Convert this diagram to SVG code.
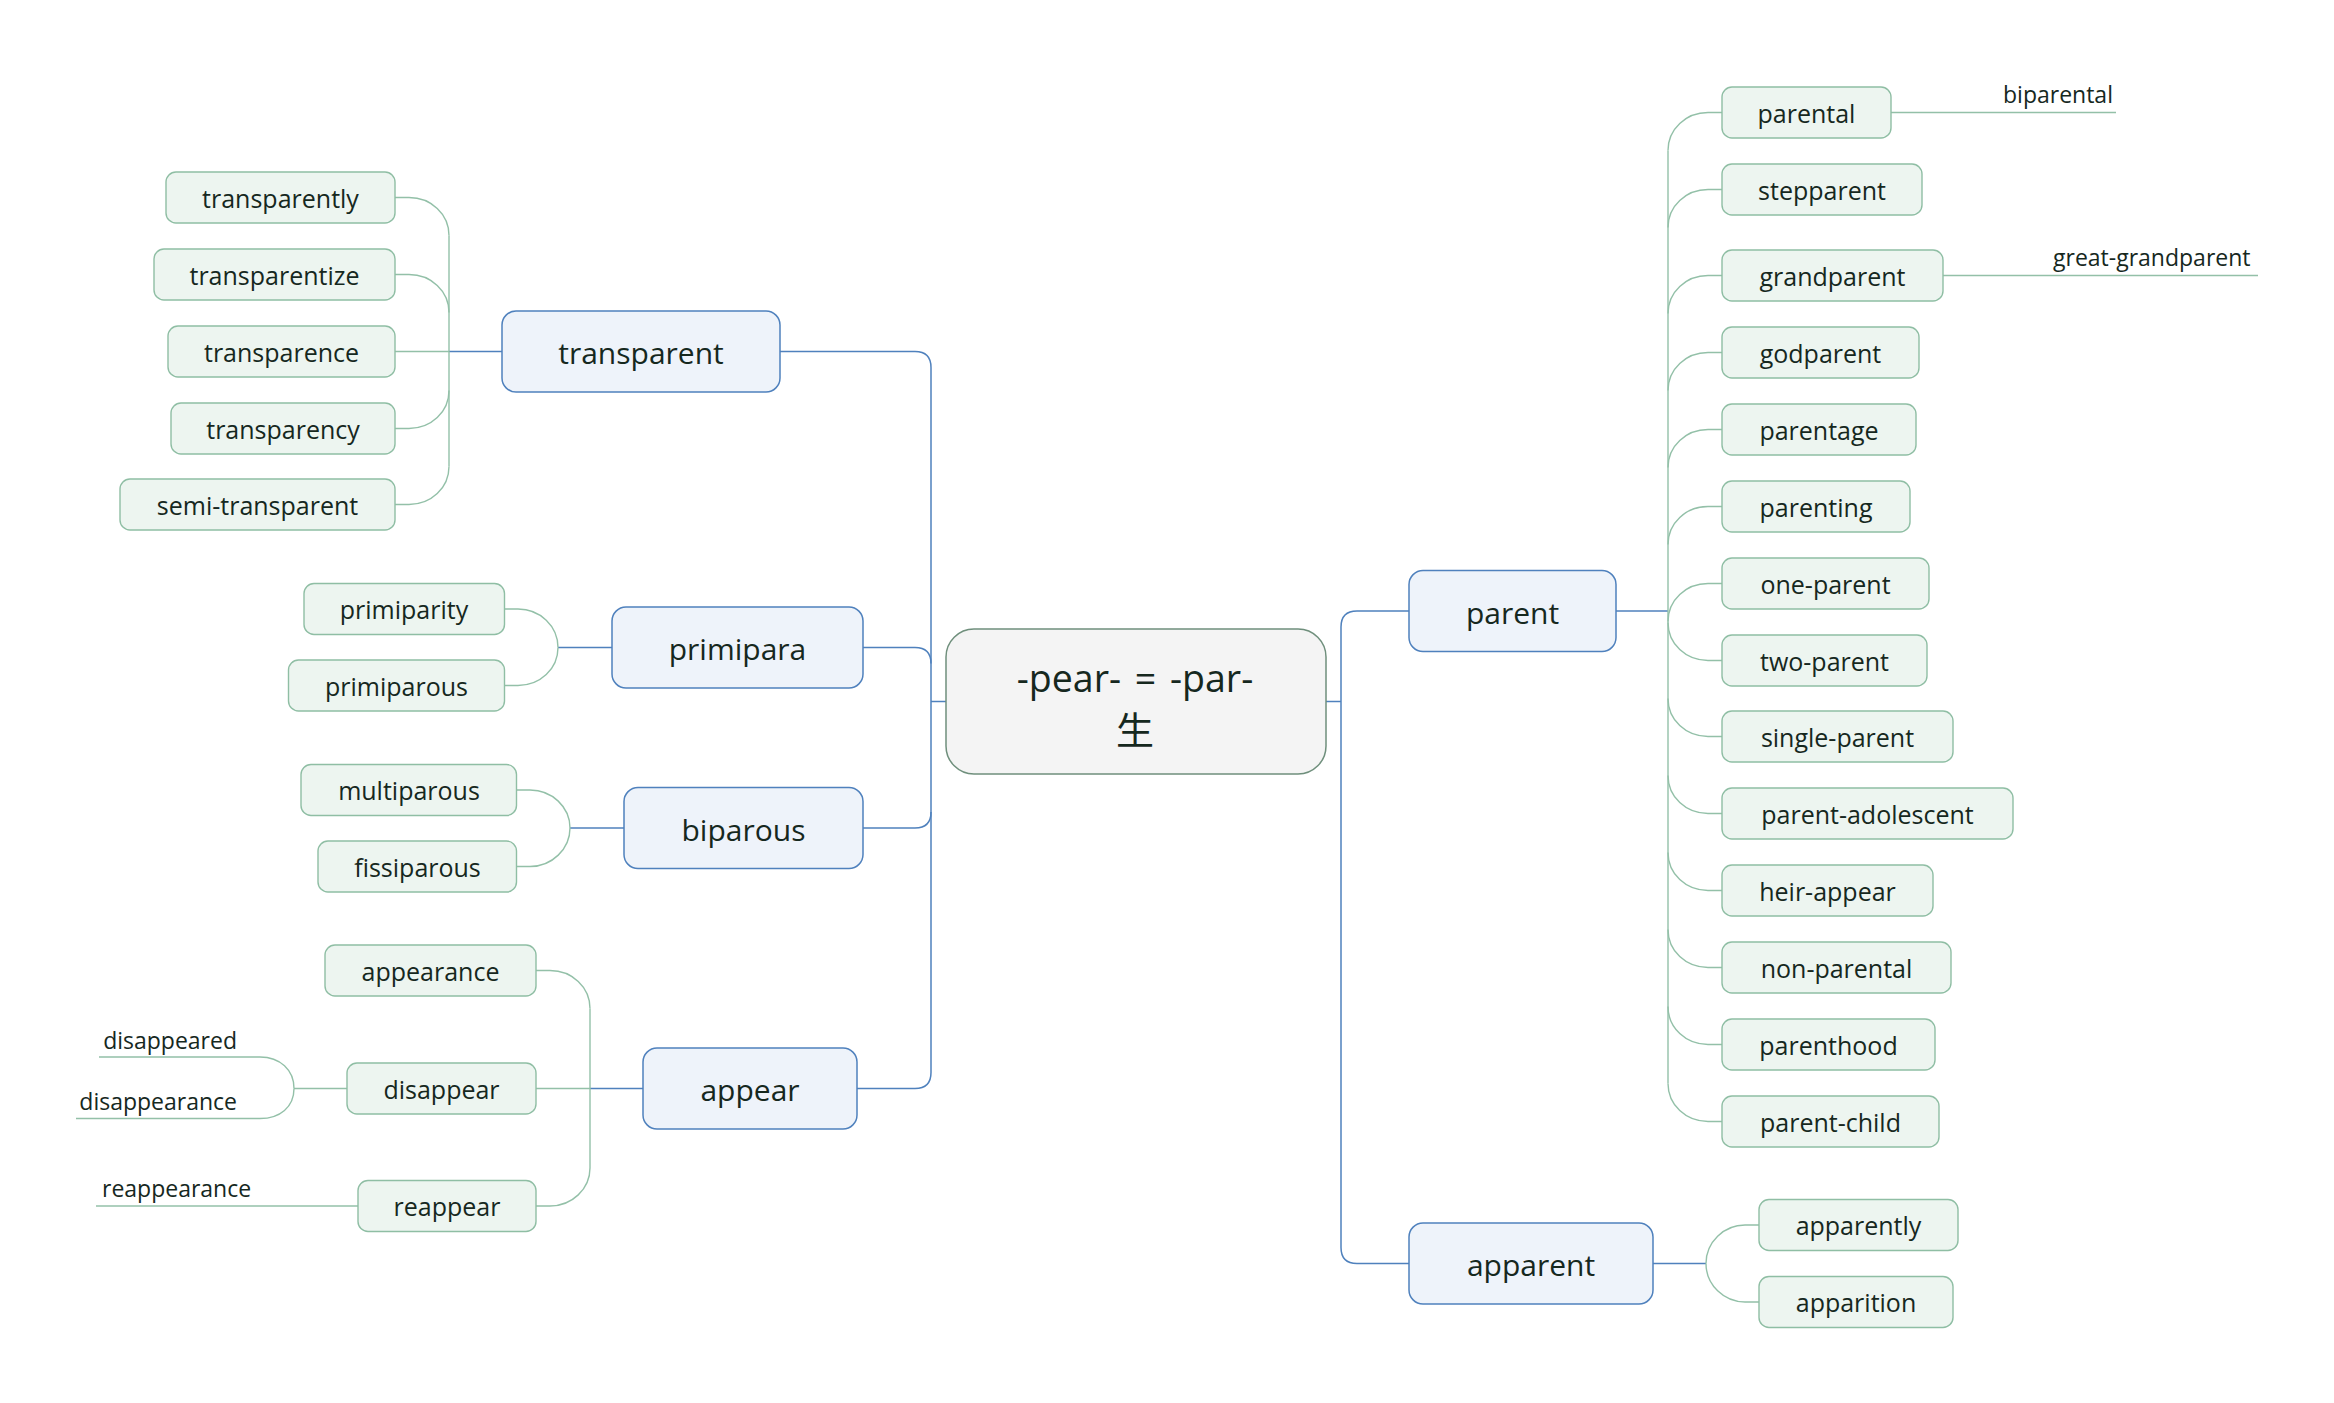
<svg xmlns="http://www.w3.org/2000/svg" width="2334" height="1403" viewBox="0 0 2334 1403">
<style>
text{font-family:"Open Sans","Noto Sans","Noto Sans CJK SC",sans-serif;fill:#16281e}
.c rect{fill:#f4f4f4;stroke:#6f8f7c;stroke-width:1.5}
.p rect{fill:#eef3fa;stroke:#4f81bd;stroke-width:1.5}
.k rect{fill:#edf5f0;stroke:#8fbea4;stroke-width:1.4}
.p text{font-size:30px;text-anchor:middle}
.k text{font-size:25px;text-anchor:middle}
.l text{font-size:23px}
.bl{fill:none;stroke:#4f81bd;stroke-width:1.5}
.gr{fill:none;stroke:#93c0a8;stroke-width:1.4}
</style>
<rect width="2334" height="1403" fill="#fff"/>
<g id="connectors">
  <path class="bl" d="M780,351.5 H915 Q931,351.5 931,367.5 V1072.5 Q931,1088.5 915,1088.5 H857"/>
  <path class="bl" d="M863,647.5 H915 Q931,647.5 931,663.5"/>
  <path class="bl" d="M863,828 H915 Q931,828 931,812"/>
  <path class="bl" d="M931,701.5 H946"/>
  <path class="bl" d="M1326,701.5 H1341"/>
  <path class="bl" d="M1409,611 H1357 Q1341,611 1341,627 V1247.5 Q1341,1263.5 1357,1263.5 H1409"/>
  <path class="bl" d="M449,351.5 H502"/>
  <path class="bl" d="M558,647.5 H612"/>
  <path class="bl" d="M570,828 H624"/>
  <path class="bl" d="M590,1088.5 H643"/>
  <path class="bl" d="M1616,611 H1668"/>
  <path class="bl" d="M1653,1263.5 H1706"/>
  <path class="gr" d="M449,235.5 V466.5"/>
  <path class="gr" d="M449,235.5 C449,214 431,197.5 409,197.5 H395"/>
  <path class="gr" d="M449,312.5 C449,291 431,274.5 409,274.5 H395"/>
  <path class="gr" d="M449,351.5 H395"/>
  <path class="gr" d="M449,390.5 C449,412 431,428.5 409,428.5 H395"/>
  <path class="gr" d="M449,466.5 C449,488 431,504.5 409,504.5 H395"/>
  <path class="gr" d="M558,647.5 C558,626 540,609 518,609 H504.5"/>
  <path class="gr" d="M558,647.5 C558,669 540,685.5 518,685.5 H504.5"/>
  <path class="gr" d="M570,828 C570,807 552,790 530,790 H516.5"/>
  <path class="gr" d="M570,828 C570,849 552,866.5 530,866.5 H516.5"/>
  <path class="gr" d="M590,1008.5 V1168"/>
  <path class="gr" d="M590,1008.5 C590,987 572,970.5 550,970.5 H536"/>
  <path class="gr" d="M590,1088.5 H536"/>
  <path class="gr" d="M590,1168 C590,1189 572,1206 550,1206 H536"/>
  <path class="gr" d="M347,1088.5 H294"/>
  <path class="gr" d="M294,1088.5 C294,1070 280,1057 260,1057 H99"/>
  <path class="gr" d="M294,1088.5 C294,1107 280,1118.5 260,1118.5 H76"/>
  <path class="gr" d="M358,1206 H96"/>
  <path class="gr" d="M1668,150.5 V1083.5"/>
  <path class="gr" d="M1668,150.5 C1668,129 1686,112.5 1708,112.5 H1722"/>
  <path class="gr" d="M1668,227.5 C1668,206 1686,189.5 1708,189.5 H1722"/>
  <path class="gr" d="M1668,313.5 C1668,292 1686,275.5 1708,275.5 H1722"/>
  <path class="gr" d="M1668,390.5 C1668,369 1686,352.5 1708,352.5 H1722"/>
  <path class="gr" d="M1668,467.5 C1668,446 1686,429.5 1708,429.5 H1722"/>
  <path class="gr" d="M1668,544.5 C1668,523 1686,506.5 1708,506.5 H1722"/>
  <path class="gr" d="M1668,621.5 C1668,600 1686,583.5 1708,583.5 H1722"/>
  <path class="gr" d="M1668,622.5 C1668,644 1686,660.5 1708,660.5 H1722"/>
  <path class="gr" d="M1668,698.5 C1668,720 1686,736.5 1708,736.5 H1722"/>
  <path class="gr" d="M1668,775.5 C1668,797 1686,813.5 1708,813.5 H1722"/>
  <path class="gr" d="M1668,852.5 C1668,874 1686,890.5 1708,890.5 H1722"/>
  <path class="gr" d="M1668,929.5 C1668,951 1686,967.5 1708,967.5 H1722"/>
  <path class="gr" d="M1668,1006.5 C1668,1028 1686,1044.5 1708,1044.5 H1722"/>
  <path class="gr" d="M1668,1083.5 C1668,1105 1686,1121.5 1708,1121.5 H1722"/>
  <path class="gr" d="M1706,1263.5 C1706,1242 1724,1225 1745,1225 H1759"/>
  <path class="gr" d="M1706,1263.5 C1706,1285 1724,1302 1745,1302 H1759"/>
  <path class="gr" d="M1891,112.5 H2116"/>
  <path class="gr" d="M1943,275.5 H2258"/>
</g>

<g id="center" class="c">
  <rect x="946" y="629" width="380" height="145" rx="28"/>
  <text x="1135" y="692" font-size="37.5" text-anchor="middle" word-spacing="4">-pear- = -par-</text>
  <text x="1135" y="744" font-size="38" text-anchor="middle" style="font-family:'Noto Sans CJK SC',sans-serif">生</text>
</g>

<g id="n-transparent" class="p"><rect x="502" y="311" width="278" height="81" rx="14"/><text x="641" y="364">transparent</text></g>
<g id="n-primipara" class="p"><rect x="612" y="607" width="251" height="81" rx="14"/><text x="737.5" y="660">primipara</text></g>
<g id="n-biparous" class="p"><rect x="624" y="787.5" width="239" height="81" rx="14"/><text x="743.5" y="840.5">biparous</text></g>
<g id="n-appear" class="p"><rect x="643" y="1048" width="214" height="81" rx="14"/><text x="750" y="1101">appear</text></g>
<g id="n-parent" class="p"><rect x="1409" y="570.5" width="207" height="81" rx="14"/><text x="1512.5" y="623.5">parent</text></g>
<g id="n-apparent" class="p"><rect x="1409" y="1223" width="244" height="81" rx="14"/><text x="1531" y="1276">apparent</text></g>

<g id="n-transparently" class="k"><rect x="166" y="172" width="229" height="51" rx="10"/><text x="280.5" y="207.5">transparently</text></g>
<g id="n-transparentize" class="k"><rect x="154" y="249" width="241" height="51" rx="10"/><text x="274.5" y="284.5">transparentize</text></g>
<g id="n-transparence" class="k"><rect x="168" y="326" width="227" height="51" rx="10"/><text x="281.5" y="361.5">transparence</text></g>
<g id="n-transparency" class="k"><rect x="171" y="403" width="224" height="51" rx="10"/><text x="283" y="438.5">transparency</text></g>
<g id="n-semi-transparent" class="k"><rect x="120" y="479" width="275" height="51" rx="10"/><text x="257.5" y="514.5">semi-transparent</text></g>

<g id="n-primiparity" class="k"><rect x="304" y="583.5" width="200.5" height="51" rx="10"/><text x="404" y="619">primiparity</text></g>
<g id="n-primiparous" class="k"><rect x="288.5" y="660" width="216" height="51" rx="10"/><text x="396.5" y="695.5">primiparous</text></g>
<g id="n-multiparous" class="k"><rect x="301" y="764.5" width="215.5" height="51" rx="10"/><text x="409" y="800">multiparous</text></g>
<g id="n-fissiparous" class="k"><rect x="318" y="841" width="198.5" height="51" rx="10"/><text x="417.5" y="876.5">fissiparous</text></g>

<g id="n-appearance" class="k"><rect x="325" y="945" width="211" height="51" rx="10"/><text x="430.5" y="980.5">appearance</text></g>
<g id="n-disappear" class="k"><rect x="347" y="1063" width="189" height="51" rx="10"/><text x="441.5" y="1098.5">disappear</text></g>
<g id="n-reappear" class="k"><rect x="358" y="1180.5" width="178" height="51" rx="10"/><text x="447" y="1216">reappear</text></g>

<g id="n-disappeared" class="l"><text x="237" y="1048.5" text-anchor="end">disappeared</text></g>
<g id="n-disappearance" class="l"><text x="237" y="1110" text-anchor="end">disappearance</text></g>
<g id="n-reappearance" class="l"><text x="102" y="1197">reappearance</text></g>

<g id="n-parental" class="k"><rect x="1722" y="87" width="169" height="51" rx="10"/><text x="1806.5" y="122.5">parental</text></g>
<g id="n-stepparent" class="k"><rect x="1722" y="164" width="200" height="51" rx="10"/><text x="1822" y="199.5">stepparent</text></g>
<g id="n-grandparent" class="k"><rect x="1722" y="250" width="221" height="51" rx="10"/><text x="1832.5" y="285.5">grandparent</text></g>
<g id="n-godparent" class="k"><rect x="1722" y="327" width="197" height="51" rx="10"/><text x="1820.5" y="362.5">godparent</text></g>
<g id="n-parentage" class="k"><rect x="1722" y="404" width="194" height="51" rx="10"/><text x="1819" y="439.5">parentage</text></g>
<g id="n-parenting" class="k"><rect x="1722" y="481" width="188" height="51" rx="10"/><text x="1816" y="516.5">parenting</text></g>
<g id="n-one-parent" class="k"><rect x="1722" y="558" width="207" height="51" rx="10"/><text x="1825.5" y="593.5">one-parent</text></g>
<g id="n-two-parent" class="k"><rect x="1722" y="635" width="205" height="51" rx="10"/><text x="1824.5" y="670.5">two-parent</text></g>
<g id="n-single-parent" class="k"><rect x="1722" y="711" width="231" height="51" rx="10"/><text x="1837.5" y="746.5">single-parent</text></g>
<g id="n-parent-adolescent" class="k"><rect x="1722" y="788" width="291" height="51" rx="10"/><text x="1867.5" y="823.5">parent-adolescent</text></g>
<g id="n-heir-appear" class="k"><rect x="1722" y="865" width="211" height="51" rx="10"/><text x="1827.5" y="900.5">heir-appear</text></g>
<g id="n-non-parental" class="k"><rect x="1722" y="942" width="229" height="51" rx="10"/><text x="1836.5" y="977.5">non-parental</text></g>
<g id="n-parenthood" class="k"><rect x="1722" y="1019" width="213" height="51" rx="10"/><text x="1828.5" y="1054.5">parenthood</text></g>
<g id="n-parent-child" class="k"><rect x="1722" y="1096" width="217" height="51" rx="10"/><text x="1830.5" y="1131.5">parent-child</text></g>

<g id="n-apparently" class="k"><rect x="1759" y="1199.5" width="199" height="51" rx="10"/><text x="1858.5" y="1235">apparently</text></g>
<g id="n-apparition" class="k"><rect x="1759" y="1276.5" width="194" height="51" rx="10"/><text x="1856" y="1312">apparition</text></g>

<g id="n-biparental" class="l"><text x="2003" y="103">biparental</text></g>
<g id="n-great-grandparent" class="l"><text x="2053" y="266">great-grandparent</text></g>
</svg>
